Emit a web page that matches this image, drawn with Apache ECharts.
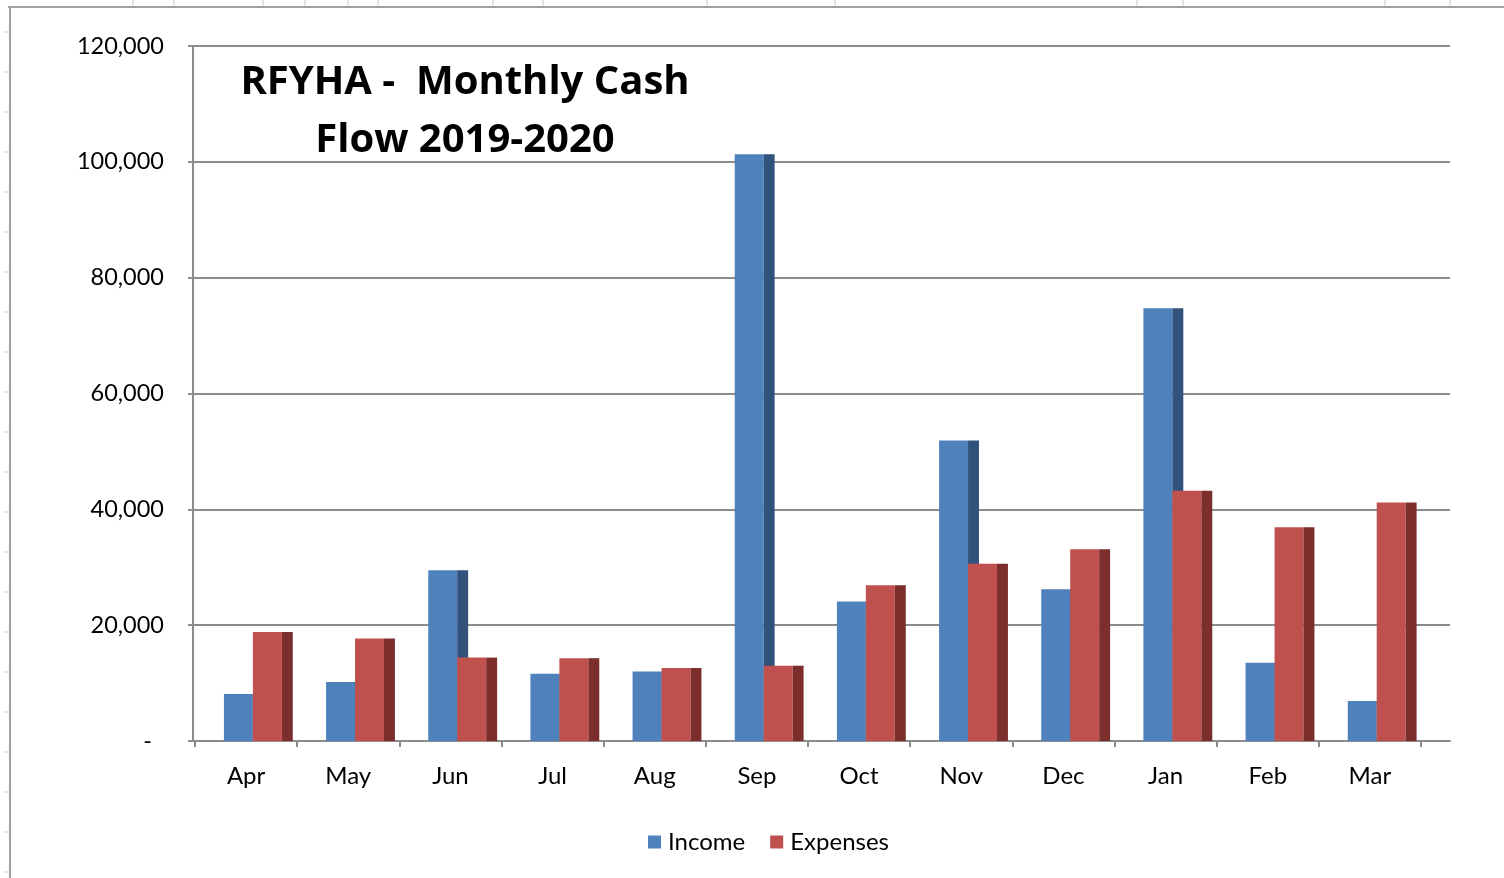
<!DOCTYPE html>
<html>
<head>
<meta charset="utf-8">
<title>RFYHA - Monthly Cash Flow 2019-2020</title>
<script src="https://cdn.jsdelivr.net/npm/echarts@6/dist/echarts.min.js"></script>
<style>
  html, body { margin: 0; padding: 0; background: #fff; }
  #chart_box { width: 1504px; height: 878px; }
</style>
</head>
<body>
<div id="chart_box"></div>
<script>
const months = ['Apr', 'May', 'Jun', 'Jul', 'Aug', 'Sep', 'Oct', 'Nov', 'Dec', 'Jan', 'Feb', 'Mar']
const income = [8100, 10200, 29500, 11600, 12000, 101300, 24100, 51900, 26200, 74700, 13500, 6900]
const expenses = [18800, 17700, 14400, 14300, 12600, 13000, 26900, 30600, 33100, 43200, 36900, 41200]
const yTicks = [0, 20000, 40000, 60000, 80000, 100000, 120000]

const FONT = 'Lato'
const colors = {
  income: { front: '#4f81bd', side: '#30527b' },
  expenses: { front: '#c0504d', side: '#7b2e2c' }
}

// Excel style 3D column: front face + darker side face
function barRender(seriesIndex, pal) {
  return function (params, api) {
    const idx = api.value(0)
    const base = api.coord([idx, 0])
    const top = api.coord([idx, api.value(1)])
    const bw = api.size([1, 0])[0]
    const catLeft = base[0] - bw / 2
    const fw = bw * 0.2835
    const x = catLeft + bw * 0.283 + seriesIndex * fw
    const h = base[1] - top[1]
    return {
      type: 'group',
      children: [
        { type: 'rect', shape: { x: x, y: top[1], width: fw, height: h }, style: { fill: pal.front } },
        { type: 'rect', shape: { x: x + fw, y: top[1], width: bw * 0.107, height: h }, style: { fill: pal.side } }
      ]
    }
  }
}

// spreadsheet frame around the chart
const frame = [
  { type: 'line', shape: { x1: 8, y1: 7, x2: 1504, y2: 7 }, style: { stroke: '#a0a0a0', lineWidth: 2 } },
  { type: 'line', shape: { x1: 10, y1: 7, x2: 10, y2: 878 }, style: { stroke: '#a0a0a0', lineWidth: 2 } }
]
;[133, 174, 263, 305, 348, 378, 493, 543, 707, 835, 1137, 1183, 1385, 1450].forEach(function (x) {
  frame.push({ type: 'line', shape: { x1: x, y1: 0, x2: x, y2: 6 }, style: { stroke: '#c8c8c8', lineWidth: 1 } })
})
for (let y = 32; y < 878; y += 40) {
  frame.push({ type: 'line', shape: { x1: 4, y1: y, x2: 9, y2: y }, style: { stroke: '#c8c8c8', lineWidth: 1 } })
}

const chartDom = document.getElementById('chart_box')
const myChart = echarts.init(chartDom)
const option = {
  animation: false,
  textStyle: { fontFamily: FONT },
  graphic: frame.concat([
    {
      type: 'text',
      z: 100,
      style: {
        x: 465,
        y: 54,
        text: 'RFYHA -  Monthly Cash\nFlow 2019-2020',
        fill: '#000',
        font: 'bold 40px "Open Sans"',
        align: 'center',
        verticalAlign: 'top',
        lineHeight: 58
      }
    }
  ]),
  legend: {
    left: 643,
    top: 825,
    itemWidth: 13,
    itemHeight: 13,
    itemGap: 25,
    icon: 'rect',
    textStyle: { fontSize: 24, color: '#000', fontFamily: FONT, padding: [0, 0, 0, 2] },
    data: ['Income', 'Expenses']
  },
  grid: [
    { left: 193, right: 54, top: 46, bottom: 137 },
    { left: 195, right: 83, top: 46, bottom: 137 }
  ],
  xAxis: [
    {
      type: 'category',
      gridIndex: 0,
      data: months,
      axisLine: { show: true, lineStyle: { color: '#8c8c8c', width: 2 } },
      axisTick: { show: false },
      axisLabel: { show: false }
    },
    {
      type: 'category',
      gridIndex: 1,
      data: months,
      axisLine: { show: false },
      axisTick: { show: true, length: 6, lineStyle: { color: '#8c8c8c', width: 2 } },
      axisLabel: { margin: 23, fontSize: 24, color: '#000', fontFamily: FONT }
    }
  ],
  yAxis: [
    {
      type: 'value',
      gridIndex: 0,
      min: yTicks[0],
      max: yTicks[yTicks.length - 1],
      interval: yTicks[1] - yTicks[0],
      axisLine: { show: true, lineStyle: { color: '#8c8c8c', width: 2 } },
      axisTick: { show: true, length: 5, lineStyle: { color: '#8c8c8c', width: 2 } },
      splitLine: { show: true, lineStyle: { color: '#8c8c8c', width: 2 } },
      axisLabel: {
        margin: 29,
        fontSize: 23.5,
        color: '#000',
        fontFamily: FONT,
        formatter: function (v) { return v === 0 ? '-  ' : v.toLocaleString('en-US') }
      }
    },
    {
      type: 'value',
      gridIndex: 1,
      min: yTicks[0],
      max: yTicks[yTicks.length - 1],
      interval: yTicks[1] - yTicks[0],
      show: false,
      splitLine: { show: false }
    }
  ],
  series: [
    {
      name: 'Income',
      type: 'custom',
      xAxisIndex: 1,
      yAxisIndex: 1,
      itemStyle: { color: colors.income.front },
      renderItem: barRender(0, colors.income),
      encode: { x: 0, y: 1 },
      data: income.map(function (v, i) { return [i, v] })
    },
    {
      name: 'Expenses',
      type: 'custom',
      xAxisIndex: 1,
      yAxisIndex: 1,
      itemStyle: { color: colors.expenses.front },
      renderItem: barRender(1, colors.expenses),
      encode: { x: 0, y: 1 },
      data: expenses.map(function (v, i) { return [i, v] })
    }
  ]
}

option && myChart.setOption(option)
</script>
</body>
</html>
